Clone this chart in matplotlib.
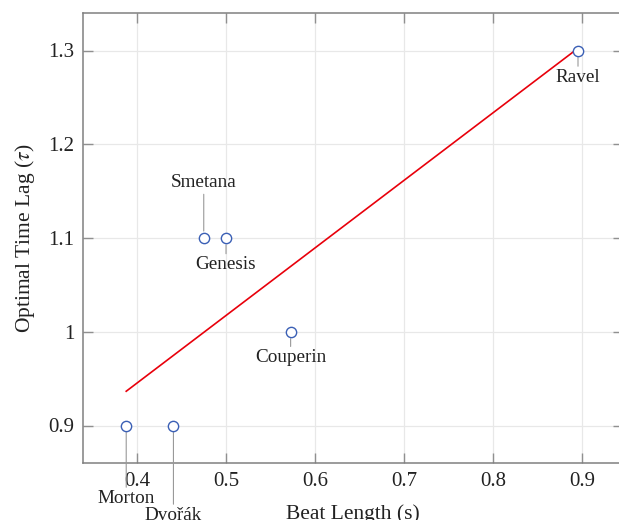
import numpy as np
import matplotlib
matplotlib.use("Agg")
import matplotlib.pyplot as plt

plt.rcParams['font.family'] = ['Liberation Serif', 'DejaVu Serif']
plt.rcParams['mathtext.fontset'] = 'stix'

# data
names = ['Morton', 'Dvořák', 'Smetana', 'Genesis', 'Couperin', 'Ravel']
beat_length = [0.388, 0.441, 0.475, 0.500, 0.5725, 0.895]
time_lag = [0.9, 0.9, 1.1, 1.1, 1.0, 1.3]

# label pin offsets (pixels, label centre relative to point)
pin_offsets = {'Morton': -73, 'Dvořák': -90, 'Smetana': 55,
               'Genesis': -27, 'Couperin': -26, 'Ravel': -27}

x = np.array(beat_length)
y = np.array(time_lag)
slope, icpt = np.polyfit(x, y, 1)

fig = plt.figure(figsize=(6.19, 5.2), dpi=100)
ax = fig.add_axes([83 / 619, 57 / 520, 540 / 619, 450 / 520])

ax.set_xlim(0.3395, 0.9455)
ax.set_ylim(0.86, 1.34)
ax.set_xticks([0.4, 0.5, 0.6, 0.7, 0.8, 0.9])
ax.set_yticks([0.9, 1.0, 1.1, 1.2, 1.3])
ax.set_yticklabels(['0.9', '1', '1.1', '1.2', '1.3'])
ax.grid(True, color='#e8e8e8', linewidth=0.9)
ax.set_axisbelow(True)

for s in ax.spines.values():
    s.set_color('#808080')
    s.set_linewidth(1.1)
ax.tick_params(direction='in', length=7, width=1.0, color='#909090',
               top=True, right=True, labelsize=15, pad=6,
               labelcolor='#222222')
ax.tick_params(axis='x', pad=6.5)

xs = np.array([x.min(), x.max()])
ax.plot(xs, slope * xs + icpt, color='#e8000b', linewidth=1.2, zorder=3)

ax.scatter(x, y, s=55, facecolors='white', edgecolors='#3a5fb5',
           linewidths=1.0, zorder=4)

for n, xi, yi in zip(names, beat_length, time_lag):
    ax.annotate(n, xy=(xi, yi), xytext=(0, pin_offsets[n]),
                textcoords='offset pixels', ha='center', va='center',
                fontsize=13.8, color='#222222', annotation_clip=False,
                arrowprops=dict(arrowstyle='-', color='#999999', lw=0.8,
                                shrinkA=0, shrinkB=5))

ax.set_xlabel('Beat Length (s)', fontsize=15.5, labelpad=9.5, color='#222222')
ax.set_ylabel(r'Optimal Time Lag ($\tau$)', fontsize=15.5, labelpad=8,
              color='#222222')

fig.savefig('out.png', dpi=100)
